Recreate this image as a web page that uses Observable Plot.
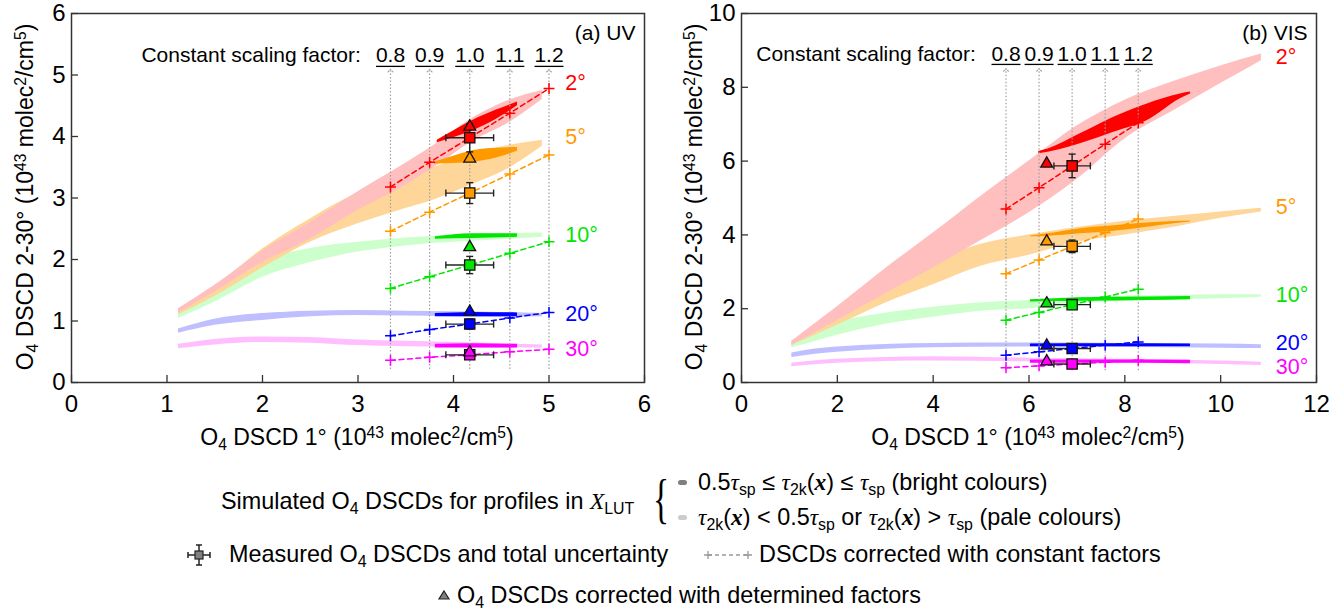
<!DOCTYPE html>
<html><head><meta charset="utf-8">
<script src="https://cdn.jsdelivr.net/npm/d3@7"></script>
<script src="https://cdn.jsdelivr.net/npm/@observablehq/plot@0.6"></script>
<style>
body{margin:0;background:#fff;font-family:"Liberation Sans",Arial,sans-serif;}
#wrap{position:relative;width:1344px;height:613px;overflow:hidden;background:#fff;}
.panel{position:absolute;top:0;}
.lab{position:absolute;white-space:nowrap;color:#000;line-height:1;}
.ax{font-size:23px;transform:translate(-50%,-50%);}
.ay{font-size:23px;transform:translate(-50%,-50%) rotate(-90deg);}
.leg{font-size:23.4px;transform:translateY(-50%);}
sub,sup{font-size:0.68em;line-height:0;position:relative;vertical-align:baseline;}
sub{top:0.3em;} sup{top:-0.45em;}
.m{font-family:"Liberation Serif","Times New Roman",serif;font-style:italic;}
.mb{font-family:"Liberation Serif","Times New Roman",serif;font-style:italic;font-weight:bold;}
.lsym{position:absolute;}
</style></head>
<body><div id="wrap">
<div id="pa" class="panel" style="left:0"></div>
<div id="pb" class="panel" style="left:672px"></div>
<div class="lab ax" style="left:357px;top:437px">O<sub>4</sub> DSCD 1° (10<sup>43</sup> molec<sup>2</sup>/cm<sup>5</sup>)</div>
<div class="lab ax" style="left:1028px;top:437px">O<sub>4</sub> DSCD 1° (10<sup>43</sup> molec<sup>2</sup>/cm<sup>5</sup>)</div>
<div class="lab ay" style="left:25px;top:197px">O<sub>4</sub> DSCD 2-30° (10<sup>43</sup> molec<sup>2</sup>/cm<sup>5</sup>)</div>
<div class="lab ay" style="left:694px;top:197px">O<sub>4</sub> DSCD 2-30° (10<sup>43</sup> molec<sup>2</sup>/cm<sup>5</sup>)</div>

<div class="lab leg" style="left:221px;top:502px">Simulated O<sub>4</sub> DSCDs for profiles in <span class="m">X</span><sub>LUT</sub></div>
<div class="lab" style="left:653px;top:501px;font-family:'Liberation Serif',serif;font-size:54px;transform:translateY(-54%) scaleX(0.62);transform-origin:left center;">{</div>
<svg class="lsym" style="left:676px;top:478px" width="16" height="10"><rect x="2" y="2" width="9" height="5" rx="2.5" fill="#7f7f7f"/></svg>
<div class="lab leg" style="left:698px;top:483px">0.5<span class="m">τ</span><sub>sp</sub> ≤ <span class="m">τ</span><sub>2k</sub>(<span class="mb">x</span>) ≤ <span class="m">τ</span><sub>sp</sub> (bright colours)</div>
<svg class="lsym" style="left:676px;top:513px" width="16" height="10"><rect x="2" y="2" width="9" height="5" rx="2.5" fill="#cccccc"/></svg>
<div class="lab leg" style="left:698px;top:518px"><span class="m">τ</span><sub>2k</sub>(<span class="mb">x</span>) &lt; 0.5<span class="m">τ</span><sub>sp</sub> or <span class="m">τ</span><sub>2k</sub>(<span class="mb">x</span>) &gt; <span class="m">τ</span><sub>sp</sub> (pale colours)</div>

<svg class="lsym" style="left:186px;top:543px" width="26" height="24">
 <line x1="2" y1="12" x2="24" y2="12" stroke="#222" stroke-width="1.5"/>
 <line x1="2" y1="9" x2="2" y2="15" stroke="#222" stroke-width="1.5"/>
 <line x1="24" y1="9" x2="24" y2="15" stroke="#222" stroke-width="1.5"/>
 <line x1="13" y1="2" x2="13" y2="22" stroke="#222" stroke-width="1.5"/>
 <line x1="10" y1="2" x2="16" y2="2" stroke="#222" stroke-width="1.5"/>
 <line x1="10" y1="22" x2="16" y2="22" stroke="#222" stroke-width="1.5"/>
 <rect x="9" y="8" width="8" height="8" fill="#808080" stroke="#222" stroke-width="1.2"/>
</svg>
<div class="lab leg" style="left:229px;top:555px">Measured O<sub>4</sub> DSCDs and total uncertainty</div>
<svg class="lsym" style="left:704px;top:547px" width="48" height="16">
 <line x1="4" y1="8" x2="44" y2="8" stroke="#999" stroke-width="1.3" stroke-dasharray="4,3"/>
 <path d="M0,8h8M4,4v8M40,8h8M44,4v8" stroke="#999" stroke-width="1.3"/>
</svg>
<div class="lab leg" style="left:759px;top:555px">DSCDs corrected with constant factors</div>
<svg class="lsym" style="left:437px;top:588px" width="14" height="14"><path d="M7,3L12,11L2,11Z" fill="#808080" stroke="#222" stroke-width="1.2"/></svg>
<div class="lab leg" style="left:457px;top:596px">O<sub>4</sub> DSCDs corrected with determined factors</div>
</div>
<script>
// ---------- shared ----------
const angles = ["2°", "5°", "10°", "20°", "30°"];
const brightColors = ["#ff0000", "#ff9900", "#00e600", "#0000ff", "#ff00ff"];
const paleColors = ["#ffbfbf", "#ffd699", "#ccffcc", "#bfbfff", "#ffbfff"];
const factorLabels = ["0.8", "0.9", "1.0", "1.1", "1.2"];

// ---------- (a) UV ----------
const uvXTicks = [0, 1, 2, 3, 4, 5, 6];
const uvYTicks = [0, 1, 2, 3, 4, 5, 6];
// simulated bands: [x, low, high]
const uvPale2 = [[1.12,1.13,1.2],[1.5,1.47,1.58],[2.0,1.95,2.14],[2.5,2.33,2.6],[3.0,2.8,3.1],[3.4,3.12,3.47],[3.8,3.5,3.86],[4.2,3.92,4.3],[4.6,4.24,4.6],[4.93,4.6,4.75]];
const uvPale5 = [[1.12,1.1,1.19],[1.5,1.4,1.55],[2.0,1.86,2.17],[2.5,2.28,2.66],[3.0,2.58,3.08],[3.4,2.78,3.3],[3.8,2.97,3.5],[4.2,3.22,3.72],[4.6,3.5,3.86],[4.93,3.84,3.94]];
const uvPale10 = [[1.12,1.04,1.12],[1.5,1.31,1.47],[2.0,1.71,1.98],[2.5,1.95,2.18],[3.0,2.12,2.28],[3.5,2.22,2.35],[4.0,2.28,2.39],[4.5,2.32,2.42],[4.93,2.36,2.43]];
const uvPale20 = [[1.12,0.8,0.87],[1.5,0.93,1.03],[2.0,1.01,1.12],[2.5,1.07,1.16],[3.0,1.09,1.17],[3.5,1.08,1.16],[4.0,1.07,1.15],[4.5,1.06,1.14],[4.93,1.07,1.12]];
const uvPale30 = [[1.12,0.55,0.62],[1.5,0.61,0.7],[2.0,0.65,0.74],[2.5,0.64,0.73],[3.0,0.6,0.69],[3.5,0.58,0.67],[4.0,0.57,0.65],[4.5,0.56,0.63],[4.93,0.56,0.61]];
const uvBright2 = [[3.83,3.9,3.94],[4.0,3.98,4.09],[4.2,4.09,4.26],[4.45,4.28,4.43],[4.67,4.5,4.56]];
const uvBright5 = [[3.8,3.55,3.58],[4.0,3.56,3.68],[4.2,3.58,3.77],[4.45,3.65,3.81],[4.67,3.76,3.82]];
const uvBright10 = [[3.81,2.33,2.37],[4.2,2.34,2.42],[4.67,2.36,2.42]];
const uvBright20 = [[3.81,1.07,1.12],[4.2,1.07,1.14],[4.67,1.07,1.13]];
const uvBright30 = [[3.81,0.56,0.62],[4.2,0.56,0.63],[4.67,0.56,0.62]];
// measured DSCDs with uncertainty
const uvMeasX = [4.17, 4.17, 4.17, 4.17, 4.17];
const uvMeasXErr = [0.25, 0.25, 0.25, 0.25, 0.25];
const uvMeasY = [3.98, 3.08, 1.91, 0.95, 0.45];
const uvMeasYErr = [0.23, 0.17, 0.14, 0.08, 0.05];
// corrected with determined factors
const uvTriX = [4.17, 4.17, 4.17, 4.17, 4.17];
const uvTriY = [4.16, 3.64, 2.2, 1.15, 0.49];
// corrected with constant factors
const uvCrossX = [3.34, 3.75, 4.17, 4.59, 5.0];
const uvCross2 = [3.18, 3.58, 3.98, 4.38, 4.78];
const uvCross5 = [2.46, 2.77, 3.08, 3.39, 3.70];
const uvCross10 = [1.53, 1.72, 1.91, 2.10, 2.29];
const uvCross20 = [0.76, 0.86, 0.95, 1.05, 1.14];
const uvCross30 = [0.36, 0.41, 0.45, 0.50, 0.54];

// ---------- (b) VIS ----------
const visXTicks = [0, 2, 4, 6, 8, 10, 12];
const visYTicks = [0, 2, 4, 6, 8, 10];
const visPale2 = [[1.05,1.0,1.12],[2,1.68,2.05],[3,2.4,3.08],[4,3.1,4.05],[5,3.85,5.05],[6,4.6,6.0],[7,5.5,6.95],[8,6.6,7.65],[9,7.35,8.15],[10,8.1,8.58],[10.85,8.72,8.9]];
const visPale5 = [[1.05,1.0,1.1],[2,1.55,1.9],[3,2.15,2.75],[4,2.65,3.3],[5,3.15,3.75],[6,3.45,4.0],[7,3.8,4.2],[8,4.0,4.37],[9,4.2,4.5],[10,4.45,4.62],[10.85,4.62,4.72]];
const visPale10 = [[1.05,0.94,1.05],[1.5,1.1,1.35],[2,1.28,1.62],[3,1.58,1.88],[4,1.77,2.04],[5,1.93,2.16],[6,2.0,2.22],[7,2.13,2.3],[8,2.2,2.34],[9,2.24,2.36],[10,2.27,2.38],[10.85,2.31,2.38]];
const visPale20 = [[1.05,0.68,0.8],[1.5,0.76,0.9],[2,0.82,0.96],[3,0.9,1.03],[4,0.94,1.06],[6,0.96,1.07],[8,0.95,1.06],[10,0.93,1.04],[10.85,0.92,1.02]];
const visPale30 = [[1.05,0.43,0.52],[1.5,0.48,0.58],[2,0.52,0.63],[3,0.57,0.68],[4,0.58,0.7],[6,0.56,0.66],[8,0.53,0.63],[10,0.49,0.58],[10.85,0.46,0.55]];
const visBright2 = [[6.2,6.2,6.26],[6.4,6.24,6.33],[7.07,6.47,6.74],[7.77,6.78,7.19],[8.47,7.1,7.55],[9.16,7.69,7.82],[9.37,7.82,7.87]];
const visBright5 = [[6.03,3.95,3.97],[6.38,3.96,4.03],[7.07,4.03,4.17],[7.77,4.1,4.25],[8.47,4.21,4.32],[9.16,4.32,4.37],[9.37,4.35,4.38]];
const visBright10 = [[6.03,2.18,2.24],[7.07,2.2,2.3],[8.5,2.22,2.32],[9.37,2.24,2.33]];
const visBright20 = [[6.03,0.97,1.04],[7.5,0.97,1.05],[9.37,0.97,1.04]];
const visBright30 = [[6.03,0.52,0.61],[7.5,0.52,0.61],[9.37,0.51,0.6]];
const visMeasX = [6.9, 6.9, 6.9, 6.9, 6.9];
const visMeasXErr = [0.38, 0.38, 0.38, 0.38, 0.38];
const visMeasY = [5.87, 3.69, 2.11, 0.92, 0.5];
const visMeasYErr = [0.32, 0.17, 0.1, 0.06, 0.05];
const visTriX = [6.37, 6.37, 6.37, 6.37, 6.37];
const visTriY = [5.93, 3.82, 2.14, 1.0, 0.57];
const visCrossX = [5.52, 6.21, 6.9, 7.59, 8.28];
const visCross2 = [4.7, 5.28, 5.87, 6.46, 7.04];
const visCross5 = [2.95, 3.32, 3.69, 4.06, 4.43];
const visCross10 = [1.69, 1.9, 2.11, 2.32, 2.53];
const visCross20 = [0.74, 0.83, 0.92, 1.01, 1.1];
const visCross30 = [0.4, 0.45, 0.5, 0.55, 0.6];

// ---------- drawing ----------
const FONT = '"Liberation Sans", Arial, sans-serif';
function makePanel(cfg) {
  const W = 672, H = 450, mt = 13, mb = 68;
  const fw = W - cfg.ml - cfg.mr, fh = H - mt - mb;
  const pxX = fw / (cfg.xDomain[1] - cfg.xDomain[0]);
  const pxY = fh / (cfg.yDomain[1] - cfg.yDomain[0]);
  const marks = [];
  for (let i = 4; i >= 0; i--) {
    marks.push(Plot.areaY(cfg.pale[i], {x: d => d[0], y1: d => d[1], y2: d => d[2], fill: paleColors[i], curve: "monotone-x"}));
  }
  for (let i = 4; i >= 0; i--) {
    marks.push(Plot.areaY(cfg.bright[i], {x: d => d[0], y1: d => d[1], y2: d => d[2], fill: brightColors[i], curve: "monotone-x"}));
  }
  // dotted guide lines with arrows
  marks.push(Plot.link(cfg.crossX, {x1: d => d, x2: d => d, y1: () => cfg.guideBottom, y2: () => cfg.guideTop,
    stroke: "#a0a0a0", strokeWidth: 1.2, strokeDasharray: "1.5,2", markerEnd: "arrow"}));
  // factor labels + underline
  marks.push(Plot.text(factorLabels, {x: (d, i) => cfg.crossX[i], y: () => cfg.labelY, text: d => d, fontSize: 21, fill: "#000"}));
  const hw = 14.5 / pxX;
  marks.push(Plot.link(factorLabels, {x1: (d, i) => cfg.crossX[i] - hw, x2: (d, i) => cfg.crossX[i] + hw,
    y1: () => cfg.underlineY, y2: () => cfg.underlineY, stroke: "#000", strokeWidth: 1.3}));
  marks.push(Plot.text(["Constant scaling factor:"], {x: () => cfg.csfX, y: () => cfg.labelY, text: d => d, textAnchor: "end", fontSize: 21, fill: "#000"}));
  // constant-factor crosses
  for (let i = 0; i < 5; i++) {
    const pts = cfg.crossX.map((x, j) => ({x, y: cfg.cross[i][j]}));
    marks.push(Plot.line(pts, {x: "x", y: "y", stroke: brightColors[i], strokeWidth: 1.5, strokeDasharray: "5,3.5"}));
    marks.push(Plot.dot(pts, {x: "x", y: "y", symbol: "plus", r: 3.6, stroke: brightColors[i], strokeWidth: 1.5}));
  }
  // measured with error bars
  const meas = angles.map((a, i) => ({i, x: cfg.measX[i], y: cfg.measY[i], ex: cfg.measXErr[i], ey: cfg.measYErr[i]}));
  const capX = 3.5 / pxX, capY = 3.5 / pxY;
  const eb = {stroke: "#222", strokeWidth: 1.4};
  marks.push(Plot.link(meas, {x1: d => d.x - d.ex, x2: d => d.x + d.ex, y1: "y", y2: "y", ...eb}));
  marks.push(Plot.link(meas, {x1: "x", x2: "x", y1: d => d.y - d.ey, y2: d => d.y + d.ey, ...eb}));
  marks.push(Plot.link(meas, {x1: d => d.x - d.ex, x2: d => d.x - d.ex, y1: d => d.y - capY, y2: d => d.y + capY, ...eb}));
  marks.push(Plot.link(meas, {x1: d => d.x + d.ex, x2: d => d.x + d.ex, y1: d => d.y - capY, y2: d => d.y + capY, ...eb}));
  marks.push(Plot.link(meas, {x1: d => d.x - capX, x2: d => d.x + capX, y1: d => d.y - d.ey, y2: d => d.y - d.ey, ...eb}));
  marks.push(Plot.link(meas, {x1: d => d.x - capX, x2: d => d.x + capX, y1: d => d.y + d.ey, y2: d => d.y + d.ey, ...eb}));
  marks.push(Plot.dot(meas, {x: "x", y: "y", symbol: "square", r: 5.8, fill: d => brightColors[d.i], stroke: "#111", strokeWidth: 1.3}));
  const tri = angles.map((a, i) => ({i, x: cfg.triX[i], y: cfg.triY[i]}));
  marks.push(Plot.dot(tri, {x: "x", y: "y", symbol: "triangle", r: 4.4, fill: d => brightColors[d.i], stroke: "#111", strokeWidth: 1.3}));
  // angle labels
  marks.push(Plot.text(angles, {x: () => cfg.angleX, y: (d, i) => cfg.angleY[i], text: d => d, fill: (d, i) => brightColors[i], textAnchor: "start", fontSize: 21.5}));
  // panel title
  marks.push(Plot.text([cfg.title], {frameAnchor: "top-right", text: d => d, textAnchor: "end", lineAnchor: "middle", dx: -9, dy: 20, fontSize: 21, fill: "#000"}));
  // inward ticks
  marks.push(Plot.tickX(cfg.xTicks, {x: d => d, insetTop: fh - 7, stroke: "#333", strokeWidth: 1.3}));
  marks.push(Plot.tickY(cfg.yTicks, {y: d => d, insetRight: fw - 7, stroke: "#333", strokeWidth: 1.3}));
  marks.push(Plot.axisX({ticks: cfg.xTicks, tickFormat: d => String(d), tickSize: 0, tickPadding: 12, label: null, fontSize: 24}));
  marks.push(Plot.axisY({ticks: cfg.yTicks, tickFormat: d => String(d), tickSize: 0, tickPadding: 6, label: null, fontSize: 24}));
  marks.push(Plot.frame({stroke: "#333", strokeWidth: 1.5}));
  return Plot.plot({
    width: W, height: H, marginLeft: cfg.ml, marginRight: cfg.mr, marginTop: mt, marginBottom: mb,
    x: {domain: cfg.xDomain}, y: {domain: cfg.yDomain},
    color: {type: "identity"},
    style: {fontFamily: FONT, fontSize: "24px", color: "#000", background: "transparent", overflow: "visible"},
    marks
  });
}

const uv = makePanel({
  ml: 71, mr: 28, xDomain: [0, 6], yDomain: [0, 6], xTicks: uvXTicks, yTicks: uvYTicks,
  pale: [uvPale2, uvPale5, uvPale10, uvPale20, uvPale30],
  bright: [uvBright2, uvBright5, uvBright10, uvBright20, uvBright30],
  crossX: uvCrossX, cross: [uvCross2, uvCross5, uvCross10, uvCross20, uvCross30],
  measX: uvMeasX, measXErr: uvMeasXErr, measY: uvMeasY, measYErr: uvMeasYErr,
  triX: uvTriX, triY: uvTriY,
  guideBottom: 0.22, guideTop: 5.07, underlineY: 5.14, labelY: 5.32, csfX: 3.03,
  angleX: 5.17, angleY: [4.87, 3.99, 2.39, 1.12, 0.54], title: "(a) UV"
});
const vis = makePanel({
  ml: 69, mr: 28, xDomain: [0, 12], yDomain: [0, 10], xTicks: visXTicks, yTicks: visYTicks,
  pale: [visPale2, visPale5, visPale10, visPale20, visPale30],
  bright: [visBright2, visBright5, visBright10, visBright20, visBright30],
  crossX: visCrossX, cross: [visCross2, visCross5, visCross10, visCross20, visCross30],
  measX: visMeasX, measXErr: visMeasXErr, measY: visMeasY, measYErr: visMeasYErr,
  triX: visTriX, triY: visTriY,
  guideBottom: 0.33, guideTop: 8.47, underlineY: 8.62, labelY: 8.9, csfX: 4.89,
  angleX: 11.15, angleY: [8.82, 4.75, 2.36, 1.07, 0.42], title: "(b) VIS"
});
document.getElementById("pa").appendChild(uv);
document.getElementById("pb").appendChild(vis);
</script>
</body></html>
